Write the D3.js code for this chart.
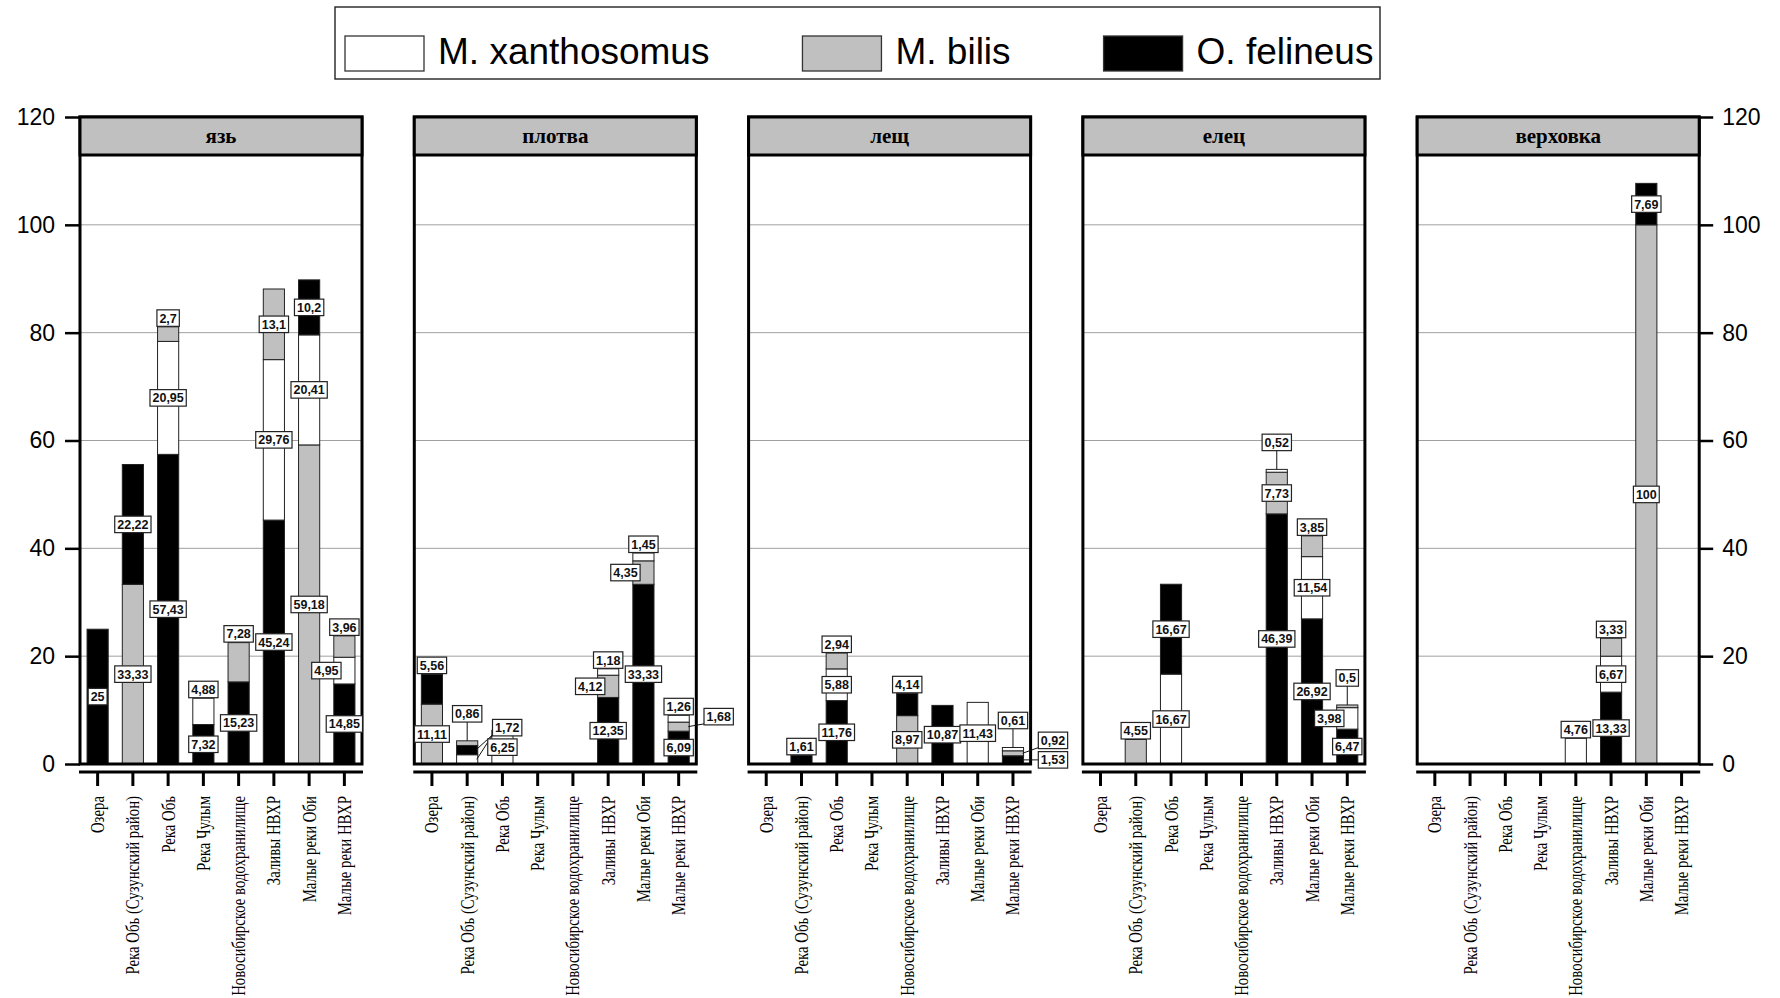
<!DOCTYPE html>
<html>
<head>
<meta charset="utf-8">
<script src="https://cdn.jsdelivr.net/npm/d3@7"></script>
<style>
  body { margin: 0; background: #fff; }
  svg { display: block; }
</style>
</head>
<body>
<div id="chart"></div>
<script>
const sites = ['Озера', 'Река Обь (Сузунский район)', 'Река Обь', 'Река Чулым',
  'Новосибирское водохранилище', 'Заливы НВХР', 'Малые реки Оби', 'Малые реки НВХР'];
const fishes = ['язь', 'плотва', 'лещ', 'елец', 'верховка'];
const seriesNames = ['M. xanthosomus', 'M. bilis', 'O. felineus'];
const seriesColors = ['#ffffff', '#c0c0c0', '#000000'];
const yTicks = [0, 20, 40, 60, 80, 100, 120];

// rows = fishes, columns = sites
const xanthosomus = [
  [0, 0, 20.95, 4.88, 0, 29.76, 20.41, 4.95],
  [0, 1.72, 6.25, 0, 0, 1.18, 1.45, 1.26],
  [0, 0, 5.88, 0, 0, 0, 11.43, 0.61],
  [0, 0, 16.67, 0, 0, 0.52, 11.54, 3.98],
  [0, 0, 0, 0, 4.76, 6.67, 0, 0]
];
const bilis = [
  [0, 33.33, 2.7, 0, 7.28, 13.1, 59.18, 3.96],
  [11.11, 0.86, 0, 0, 0, 4.12, 4.35, 1.68],
  [0, 0, 2.94, 0, 8.97, 0, 0, 0.92],
  [0, 4.55, 0, 0, 0, 7.73, 3.85, 0.5],
  [0, 0, 0, 0, 0, 3.33, 100, 0]
];
const felineus = [
  [25, 22.22, 57.43, 7.32, 15.23, 45.24, 10.2, 14.85],
  [5.56, 1.72, 0, 0, 0, 12.35, 33.33, 6.09],
  [0, 1.61, 11.76, 0, 4.14, 10.87, 0, 1.53],
  [0, 0, 16.67, 0, 0, 46.39, 26.92, 6.47],
  [0, 0, 0, 0, 0, 13.33, 7.69, 0]
];
const series = [xanthosomus, bilis, felineus];

const W = 1780, Hgt = 998;
const panelLeft = 80, panelStep = 334.3, panelW = 282;
const headerH = 38, labelH = 16.5;
const labelFont = '"Liberation Sans", Arial, sans-serif';

const svg = d3.select('#chart').append('svg')
  .attr('width', W).attr('height', Hgt);

const y = d3.scaleLinear().domain([0, 120]).range([764, 117]);
const fmt = v => String(v).replace('.', ',');

const measure = svg.append('text').attr('visibility', 'hidden')
  .style('font-family', labelFont).style('font-weight', 'bold').style('font-size', '12.5px');
const textW = s => { measure.text(s); return measure.node().getComputedTextLength() + 5; };

// legend
const legend = svg.append('g');
legend.append('rect')
  .attr('x', 335).attr('y', 7).attr('width', 1045).attr('height', 72)
  .attr('fill', '#fff').attr('stroke', '#222').attr('stroke-width', 1.4);
let lx = 345;
seriesNames.forEach((name, i) => {
  legend.append('rect')
    .attr('x', lx).attr('y', 36).attr('width', 79).attr('height', 35)
    .attr('fill', seriesColors[i]).attr('stroke', '#333').attr('stroke-width', 1.3);
  const t = legend.append('text')
    .attr('x', lx + 93).attr('y', 64)
    .style('font-family', labelFont)
    .style('font-size', '37px')
    .text(name);
  lx += 93 + t.node().getComputedTextLength() + 93;
});

fishes.forEach((fish, f) => {
  const left = panelLeft + f * panelStep;
  const x = d3.scaleBand().domain(sites).range([left, left + panelW])
    .paddingInner(0.4).paddingOuter(0.2);
  const bw = x.bandwidth();
  const g = svg.append('g');

  // gridlines
  g.selectAll('.grid').data(yTicks.filter(d => d > 0 && d < 120)).enter()
    .append('line')
      .attr('x1', left).attr('x2', left + panelW)
      .attr('y1', d => y(d)).attr('y2', d => y(d))
      .attr('stroke', '#a0a0a0').attr('stroke-width', 1);

  // stacks: largest part at the bottom
  const bars = sites.map((site, j) => {
    const vals = series.map(s => s[f][j]);
    const order = [0, 1, 2].filter(k => vals[k] > 0)
      .sort((a, b) => vals[b] - vals[a] || a - b);
    let base = 0;
    const segs = order.map(k => {
      const s = { k, v: vals[k], y0: base, y1: base + vals[k] };
      base += vals[k];
      return s;
    });
    return { site, segs };
  });

  bars.forEach(bar => {
    g.selectAll(null).data(bar.segs).enter().append('rect')
      .attr('x', x(bar.site)).attr('width', bw)
      .attr('y', d => y(d.y1)).attr('height', d => y(d.y0) - y(d.y1))
      .attr('fill', d => seriesColors[d.k])
      .attr('stroke', '#222').attr('stroke-width', 1);
  });

  // panel frame and header
  g.append('rect')
    .attr('x', left).attr('y', y(120)).attr('width', panelW).attr('height', y(0) - y(120))
    .attr('fill', 'none').attr('stroke', '#000').attr('stroke-width', 3);
  g.append('rect')
    .attr('x', left).attr('y', y(120)).attr('width', panelW).attr('height', headerH)
    .attr('fill', '#c0c0c0').attr('stroke', '#000').attr('stroke-width', 3);
  g.append('text')
    .attr('x', left + panelW / 2).attr('y', y(120) + headerH / 2).attr('dy', '0.35em')
    .attr('text-anchor', 'middle')
    .style('font-family', '"Liberation Serif", "Times New Roman", serif')
    .style('font-weight', 'bold').style('font-size', '21px')
    .text(fish);

  // x axis below the frame
  const xAxis = d3.axisBottom(x).tickSize(14).tickSizeOuter(0);
  const ax = g.append('g').attr('transform', 'translate(0,772)').call(xAxis);
  ax.select('.domain').attr('stroke', '#000').attr('stroke-width', 3)
    .attr('d', `M${left - 1},0H${left + panelW + 1}`);
  ax.selectAll('.tick line').attr('stroke', '#000').attr('stroke-width', 3);
  ax.selectAll('.tick text')
    .attr('x', 0).attr('y', 0).attr('dy', '0.35em')
    .attr('transform', 'translate(0,24) rotate(-90) scale(0.8,1)')
    .style('text-anchor', 'end')
    .style('font-family', '"Liberation Serif", "Times New Roman", serif')
    .style('font-size', '18.5px').attr('fill', '#000');

  // value labels, pass 1: inside, above or beside the segment
  const placed = [];
  const pending = [];
  bars.forEach(bar => {
    const cx = x(bar.site) + bw / 2;
    const n = bar.segs.length;
    bar.segs.forEach((s, i) => {
      const isTop = i === n - 1;
      const thr = (isTop && i > 0) ? 7.5 : 5.5;
      const mid = y((s.y0 + s.y1) / 2);
      const text = fmt(s.v);
      const lab = { text, w: textW(text), x: cx, y: mid, leaders: [] };
      if (s.v >= thr) {
        // centred inside the segment
      } else if (isTop && s.v >= 1) {
        lab.y = y(s.y1) - labelH / 2 - 0.5;
      } else if (isTop) {
        lab.y = y(s.y1) - 27;
        lab.leaders.push([cx, lab.y + labelH / 2, cx, y(s.y1)]);
      } else if (s.v >= 2) {
        lab.x = cx - 18;
      } else {
        pending.push({ bar, cx, mid, bottom: i === 0, lab });
        return;
      }
      placed.push(lab);
    });
  });

  // pass 2: small parts get a label to the right with a leader line
  const overlaps = (a, b) => Math.abs(a.x - b.x) < (a.w + b.w) / 2 + 2 &&
    Math.abs(a.y - b.y) < labelH + 3;
  let prev = null;
  pending.forEach(p => {
    const lab = p.lab;
    if (prev && prev.bar === p.bar && prev.lab.text === lab.text) {
      const pl = prev.lab;
      pl.leaders.push([pl.x - pl.w / 2, pl.y + labelH / 2 - 1, p.cx + bw / 2 - 2, p.mid]);
      return;
    }
    lab.x = p.cx + 40;
    lab.y = p.bottom ? p.mid : p.mid - 10;
    let hit = placed.find(o => overlaps(o, lab));
    while (hit) {
      lab.y = hit.y - (labelH + 3);
      hit = placed.find(o => overlaps(o, lab));
    }
    const ly = lab.y < p.mid - 2 ? lab.y + labelH / 2 - 1 : lab.y;
    lab.leaders.push([lab.x - lab.w / 2, ly, p.cx + bw / 2 - 1, p.mid]);
    placed.push(lab);
    prev = p;
  });

  g.selectAll('.leader').data(placed.flatMap(d => d.leaders)).enter().append('line')
    .attr('x1', d => d[0]).attr('y1', d => d[1])
    .attr('x2', d => d[2]).attr('y2', d => d[3])
    .attr('stroke', '#111').attr('stroke-width', 1);

  placed.forEach(d => {
    const lg = g.append('g');
    lg.append('rect')
      .attr('x', d.x - d.w / 2).attr('y', d.y - labelH / 2)
      .attr('width', d.w).attr('height', labelH)
      .attr('fill', '#fff').attr('stroke', '#222').attr('stroke-width', 1.2);
    lg.append('text')
      .attr('x', d.x).attr('y', d.y).attr('dy', '0.36em')
      .attr('text-anchor', 'middle')
      .style('font-family', labelFont)
      .style('font-weight', 'bold').style('font-size', '12.5px')
      .attr('fill', '#111')
      .text(d.text);
  });
});

measure.remove();

// y axes on the outer panels
const styleAxis = sel => {
  sel.select('.domain').remove();
  sel.selectAll('.tick line').attr('stroke', '#000').attr('stroke-width', 2.5);
  sel.selectAll('.tick text')
    .style('font-family', labelFont)
    .style('font-size', '23px').attr('fill', '#000');
};
svg.append('g').attr('transform', `translate(${panelLeft},0)`)
  .call(d3.axisLeft(y).tickValues(yTicks).tickSize(15).tickPadding(10))
  .call(styleAxis);
svg.append('g').attr('transform', `translate(${panelLeft + 4 * panelStep + panelW},0)`)
  .call(d3.axisRight(y).tickValues(yTicks).tickSize(14).tickPadding(9))
  .call(styleAxis);
</script>
</body>
</html>
